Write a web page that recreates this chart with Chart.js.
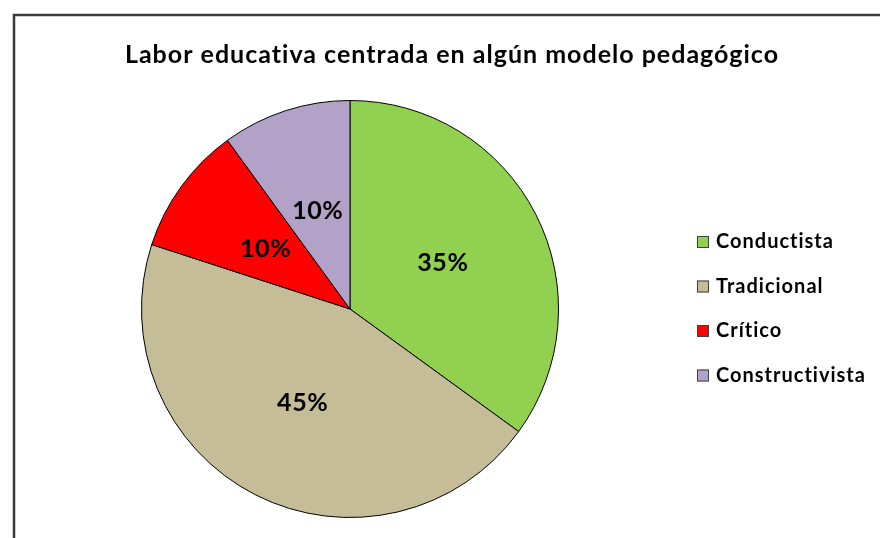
<!DOCTYPE html>
<html>
<head>
<meta charset="utf-8">
<script src="https://cdn.jsdelivr.net/npm/chart.js@4.4.1/dist/chart.umd.min.js"></script>
<style>
    html, body { margin: 0; padding: 0; background: #fff; }
    #wrap { width: 880px; height: 538px; position: relative; }
</style>
</head>
<body>
<div id="wrap"><canvas id="pieChart" width="880" height="538"></canvas></div>
<script>
var chartTitle = 'Labor educativa centrada en algún modelo pedagógico';
var categories = ['Conductista', 'Tradicional', 'Crítico', 'Constructivista'];
var percentages = [35, 45, 10, 10];
var sliceColors = ['#92D050', '#C4BD97', '#FF0000', '#B2A2C7'];

var fontFamily = 'Lato, "Open Sans", sans-serif';

// frame, title, legend and percentage labels
var decorPlugin = {
    id: 'decor',
    beforeDraw: function (chart) {
        var c = chart.ctx;
        c.save();
        c.fillStyle = '#fff';
        c.fillRect(0, 0, chart.width, chart.height);
        c.strokeStyle = '#3a3a3a';
        c.lineWidth = 2.5;
        c.strokeRect(14, 15, 1000, 1000);
        c.restore();
    },
    afterDraw: function (chart) {
        var c = chart.ctx;
        c.save();
        c.fillStyle = '#000';
        c.textBaseline = 'alphabetic';

        // title
        c.font = 'bold 25px ' + fontFamily;
        c.letterSpacing = '1px';
        c.textAlign = 'center';
        c.fillText(chartTitle, 452, 63);

        // labels on slices
        var meta = chart.getDatasetMeta(0);
        c.font = 'bold 25px ' + fontFamily;
        c.letterSpacing = '0.6px';
        c.textBaseline = 'middle';
        meta.data.forEach(function (arc, i) {
            var p = arc.tooltipPosition();
            c.fillText(percentages[i] + '%', p.x, p.y + 1);
        });

        // legend
        c.textAlign = 'left';
        c.font = 'bold 20px ' + fontFamily;
        c.letterSpacing = '1px';
        categories.forEach(function (name, i) {
            var y = 242 + i * 44.5;
            c.fillStyle = sliceColors[i];
            c.fillRect(697, y - 6, 12, 12);
            c.strokeStyle = '#404040';
            c.lineWidth = 1;
            c.strokeRect(697.5, y - 5.5, 11, 11);
            c.fillStyle = '#000';
            c.fillText(name, 716, y);
        });
        c.restore();
    }
};

var ctx = document.getElementById('pieChart').getContext('2d');
var pieChart = new Chart(ctx, {
    type: 'pie',
    data: {
        labels: categories,
        datasets: [{
            data: percentages,
            backgroundColor: sliceColors,
            borderColor: '#000',
            borderWidth: 1
        }]
    },
    options: {
        responsive: false,
        animation: false,
        layout: {
            padding: { left: 141, top: 100, right: 321, bottom: 20 }
        },
        plugins: {
            legend: { display: false },
            title: { display: false },
            tooltip: { enabled: false }
        }
    },
    plugins: [decorPlugin]
});
</script>
</body>
</html>
